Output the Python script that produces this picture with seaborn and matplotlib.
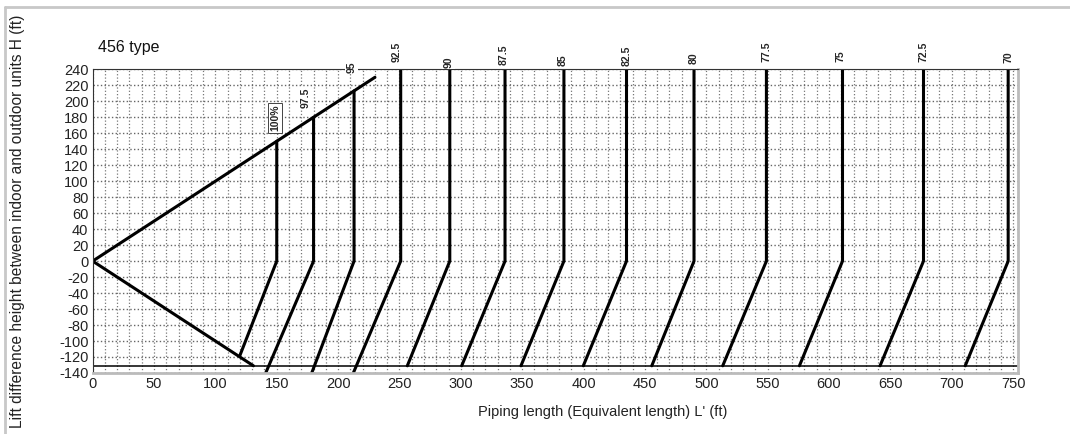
import numpy as np
import pandas as pd
import matplotlib
matplotlib.use('Agg')
import matplotlib.pyplot as plt
import seaborn as sns
from matplotlib.lines import Line2D

# capacity curves: vertical part from top down to H=0, then slanted part down to the bottom end
top_L = [150, 180, 213, 251, 291, 336, 384, 435, 490, 549, 611, 677, 746]
top_H = [150, 180, 213, 240, 240, 240, 240, 240, 240, 240, 240, 240, 240]
bot_L = [120, 141, 178.5, 212.4, 256.4, 300.7, 349, 399.8, 455.6, 513.4, 575.9, 641.6, 711]
bot_H = [-118, -140, -140, -140, -131, -131, -131, -131, -131, -131, -131, -131, -131]
labels = ['100%', '97.5', '95', '92.5', '90', '87.5', '85', '82.5', '80', '77.5', '75', '72.5', '70']
label_H = [179, 204, 243, 262, 249, 258, 252, 257, 254, 262, 257, 262, 255]
label_L = [148.6, 173.4, 211, 248, 290, 335, 383, 435, 490, 549, 609, 677, 746]

# limit lines from origin
upper_L = [0, 230]
upper_H = [0, 230]
lower_L = [0, 131]
lower_H = [0, -131]
limit_H = -131

rows = []
for i in range(len(top_L)):
    rows.append((f'c{i}', 0, top_L[i], top_H[i]))
    rows.append((f'c{i}', 1, top_L[i], 0))
    rows.append((f'c{i}', 2, bot_L[i], bot_H[i]))
for j in range(2):
    rows.append(('up', j, upper_L[j], upper_H[j]))
    rows.append(('low', j, lower_L[j], lower_H[j]))
df = pd.DataFrame(rows, columns=['curve', 'order', 'L', 'H'])

sns.set_style('white')
plt.rcParams['font.family'] = ['Liberation Sans', 'DejaVu Sans']
plt.rcParams['axes.unicode_minus'] = False

fig = plt.figure(figsize=(10.7, 4.34), dpi=100)
ax = fig.add_axes([0.0866, 0.1406, 0.8648, 0.6997])

sns.lineplot(data=df, x='L', y='H', units='curve', estimator=None, sort=False,
             color='black', linewidth=2.2, ax=ax, legend=False)
ax.axhline(limit_H, color='black', linewidth=1.1)

ax.set_xlim(0, 754)
ax.set_ylim(-140, 240)
ax.set_xticks(np.arange(0, 751, 50))
ax.set_xticks(np.arange(0, 751, 10), minor=True)
ax.set_yticks(np.arange(-140, 241, 20))
ax.grid(True, which='both', axis='x', color='#777777', linestyle=':', linewidth=0.9)
ax.grid(True, which='major', axis='y', color='#666666', linestyle=':', linewidth=1.0)
ax.tick_params(axis='both', which='both', length=0, labelsize=10.5, pad=3, colors='#222222')

for s in ['left', 'top']:
    ax.spines[s].set_color('#333333')
    ax.spines[s].set_linewidth(0.8)
for s in ['right', 'bottom']:
    ax.spines[s].set_color('#bbbbbb')
    ax.spines[s].set_linewidth(2)

ax.set_xlabel("Piping length (Equivalent length) L' (ft)", fontsize=10.5, color='#222222')
ax.xaxis.set_label_coords(0.551, -0.105)
ax.set_ylabel('Lift difference height between indoor and outdoor units H (ft)',
              fontsize=11.2, color='#222222')
ax.yaxis.set_label_coords(-0.073, 0.5)

for i, lab in enumerate(labels):
    box = dict(facecolor='white', edgecolor='none', pad=1)
    if i == 0:
        box = dict(facecolor='white', edgecolor='#444444', linewidth=0.7, pad=1.5)
    ax.text(label_L[i], label_H[i], lab, rotation=90, ha='center', va='center',
            fontsize=7.5, fontweight='bold', clip_on=False, bbox=box)

fig.text(0.0915, 0.89, '456 type', fontsize=11.5, ha='left', va='center', color='#111111')

# light frame around the picture
fig.add_artist(Line2D([5 / 1070, 5 / 1070], [0, 1 - 7 / 434], transform=fig.transFigure,
                      color='#c8c8c8', linewidth=2))
fig.add_artist(Line2D([5 / 1070, 1], [1 - 7 / 434, 1 - 7 / 434], transform=fig.transFigure,
                      color='#c8c8c8', linewidth=2))

fig.savefig('out.png', dpi=100)
